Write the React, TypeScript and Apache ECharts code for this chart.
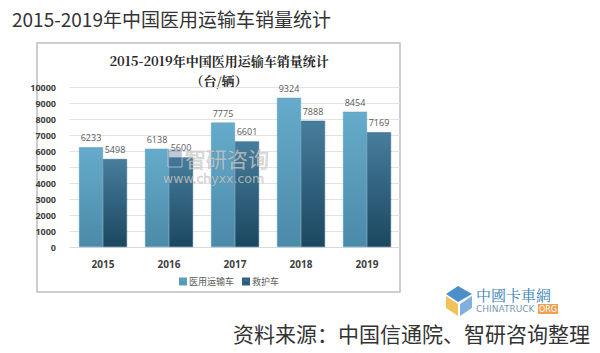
import React, { useEffect, useRef } from "react";
import * as echarts from "echarts";

const years = ["2015", "2016", "2017", "2018", "2019"];
const medicalTransport = [6233, 6138, 7775, 9324, 8454];
const ambulance = [5498, 5600, 6601, 7888, 7169];
const seriesNames = ["医用运输车", "救护车"];
const pageTitle = "2015-2019年中国医用运输车销量统计";
const innerTitle = "2015-2019年中国医用运输车销量统计";
const innerUnit = "（台/辆）";
const sourceText = "资料来源：中国信通院、智研咨询整理";

export default function App() {
  const ref = useRef<HTMLDivElement>(null);
  useEffect(() => {
    if (!ref.current) return;
    const chart = echarts.init(ref.current, undefined, { renderer: "svg" });
    const lightGrad = new echarts.graphic.LinearGradient(0, 0, 0, 1, [
      { offset: 0, color: "#66abcb" },
      { offset: 1, color: "#4b8aa8" },
    ]);
    const darkGrad = new echarts.graphic.LinearGradient(0, 0, 0, 1, [
      { offset: 0, color: "#477d9c" },
      { offset: 1, color: "#1b4760" },
    ]);
    const labelStyle = {
      show: true,
      position: "top" as const,
      color: "#595959",
      fontSize: 9,
      fontFamily: "Open Sans, sans-serif",
      distance: 5,
    };
    chart.setOption({
      animation: false,
      backgroundColor: "#ffffff",
      grid: { left: 70, right: 200, top: 87, bottom: 106 },
      xAxis: {
        type: "category",
        data: years,
        axisLine: { lineStyle: { color: "#d9d9d9" } },
        axisTick: { show: false },
        axisLabel: {
          color: "#404040",
          fontWeight: "bold",
          fontSize: 10,
          margin: 12,
          fontFamily: "Open Sans, sans-serif",
        },
      },
      yAxis: {
        type: "value",
        min: 0,
        max: 10000,
        interval: 1000,
        axisLine: { show: false },
        axisTick: { show: false },
        splitLine: { lineStyle: { color: "#e3e3e3" } },
        axisLabel: {
          color: "#404040",
          fontWeight: "bold",
          fontSize: 9,
          margin: 14,
          fontFamily: "Open Sans, sans-serif",
          formatter: (v: number) => String(v),
        },
      },
      legend: {
        data: seriesNames,
        left: 174,
        top: 272,
        itemWidth: 6,
        itemHeight: 6,
        itemGap: 8,
        icon: "rect",
        textStyle: { color: "#595959", fontSize: 9, fontFamily: "Noto Sans CJK SC", padding: [0, 0, 0, -2] },
      },
      series: [
        {
          name: seriesNames[0],
          type: "bar",
          data: medicalTransport,
          barWidth: 24,
          barGap: "0%",
          itemStyle: { color: lightGrad, borderColor: "#5a9dbd", borderWidth: 0.5 },
          label: labelStyle,
        },
        {
          name: seriesNames[1],
          type: "bar",
          data: ambulance,
          barWidth: 24,
          itemStyle: { color: darkGrad, borderColor: "#2f6280", borderWidth: 0.5 },
          label: labelStyle,
        },
      ],
      graphic: [
        {
          type: "rect",
          shape: { x: 37, y: 43, width: 363, height: 249 },
          style: { fill: "none", stroke: "#bfbfbf", lineWidth: 1.5 },
          z: -1,
        },
        {
          type: "text",
          x: 12,
          y: 18,
          style: {
            text: pageTitle,
            fontSize: 19,
            fill: "#333333",
            fontFamily: "Noto Sans CJK SC",
            verticalAlign: "middle",
          },
        },
        {
          type: "text",
          x: 219,
          y: 60,
          style: {
            text: innerTitle,
            fontSize: 13,
            fontWeight: "bold",
            fill: "#262626",
            fontFamily: "Noto Serif CJK SC, Noto Sans CJK SC",
            align: "center",
            verticalAlign: "middle",
          },
        },
        {
          type: "text",
          x: 219,
          y: 80,
          style: {
            text: innerUnit,
            fontSize: 13,
            fontWeight: "bold",
            fill: "#262626",
            fontFamily: "Noto Serif CJK SC, Noto Sans CJK SC",
            align: "center",
            verticalAlign: "middle",
          },
        },
        {
          type: "rect",
          shape: { x: 168, y: 149, width: 14, height: 18 },
          style: { fill: "rgba(70,100,150,0.35)", stroke: "rgba(230,230,230,0.6)", lineWidth: 1 },
          z: 20,
        },
        {
          type: "text",
          x: 185,
          y: 158,
          z: 20,
          style: {
            text: "智研咨询",
            fontSize: 21,
            fill: "rgba(210,210,210,0.7)",
            stroke: "rgba(120,120,120,0.45)",
            lineWidth: 0.6,
            fontFamily: "Noto Sans CJK SC",
            verticalAlign: "middle",
          },
        },
        {
          type: "text",
          x: 163,
          y: 178,
          z: 20,
          style: {
            text: "www.chyxx.com",
            fontSize: 12.5,
            fill: "rgba(210,210,210,0.7)",
            stroke: "rgba(120,120,120,0.45)",
            lineWidth: 0.5,
            fontFamily: "DejaVu Sans",
            verticalAlign: "middle",
          },
        },
        {
          type: "polygon",
          shape: { points: [[458, 286], [472, 294], [458, 302], [446, 294]] },
          style: { fill: "#4d8fc9" },
        },
        {
          type: "polygon",
          shape: { points: [[446, 296], [458, 304], [458, 316], [446, 308]] },
          style: { fill: "#f2c25a" },
        },
        {
          type: "polygon",
          shape: { points: [[460, 304], [472, 296], [472, 308], [460, 316]] },
          style: { fill: "#7fb1dc" },
        },
        {
          type: "text",
          x: 476,
          y: 294,
          style: {
            text: "中國卡車網",
            fontSize: 15,
            fill: "#3a7fb8",
            fontFamily: "Noto Serif CJK SC, Noto Sans CJK SC",
            verticalAlign: "middle",
          },
        },
        {
          type: "text",
          x: 476,
          y: 309,
          style: {
            text: "CHINATRUCK",
            fontSize: 9,
            fill: "#7a98b0",
            fontFamily: "DejaVu Sans",
            verticalAlign: "middle",
          },
        },
        {
          type: "rect",
          shape: { x: 538, y: 304, width: 20, height: 10 },
          style: { fill: "#f0a050" },
        },
        {
          type: "text",
          x: 548,
          y: 309,
          style: {
            text: "ORG",
            fontSize: 8,
            fill: "#ffffff",
            fontFamily: "DejaVu Sans",
            align: "center",
            verticalAlign: "middle",
          },
        },
        {
          type: "text",
          x: 590,
          y: 333,
          style: {
            text: sourceText,
            fontSize: 21,
            fill: "#333333",
            fontFamily: "Noto Sans CJK SC",
            align: "right",
            verticalAlign: "middle",
          },
        },
      ],
    });
    return () => chart.dispose();
  }, []);
  return (
    <div
      ref={ref}
      style={{ position: "fixed", left: 0, top: 0, width: 600, height: 353 }}
    />
  );
}
